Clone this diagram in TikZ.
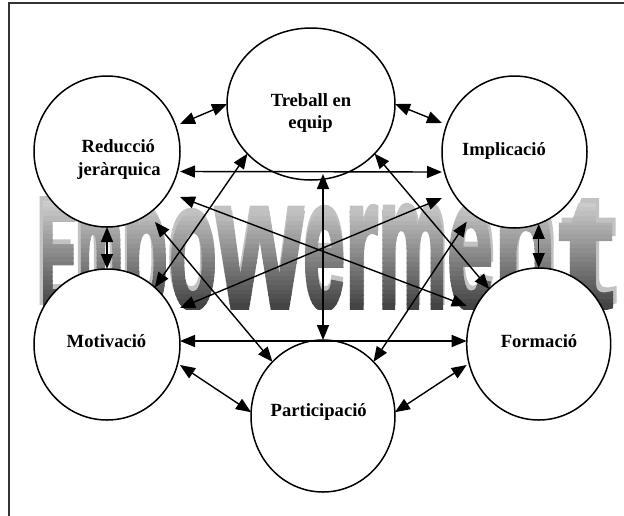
\documentclass[tikz,border=0pt]{standalone}
\usepackage{fontspec}
\usepackage{graphicx}
\setmainfont{Liberation Serif}
\newfontfamily\wordfont[FakeBold=2.5]{Liberation Sans Bold}
\usetikzlibrary{arrows.meta,shapes.geometric}

\tikzset{
  frameline/.style={line width=1.5pt, draw=black!80},
  bubble/.style={ellipse, draw=black, line width=1.5pt, fill=white,
                 inner sep=0pt, outer sep=0pt},
  tag/.style={anchor=base, inner sep=0pt,
              font=\fontsize{18.6}{22}\selectfont\bfseries},
  link/.style={{Triangle[length=15pt,width=12pt]}-{Triangle[length=15pt,width=12pt]},
               line width=1.4pt},
  glyph/.style={anchor=base west, inner sep=0pt, outer sep=0pt}
}

% one run of the word, each letter stretched into its own slot
% slot: letter / left edge / width / height above the baseline
% #1 colour, #2 horizontal spread about the middle, #3 lift
\newcommand\wordrun[3]{%
  \foreach \letr/\slotx/\slotw/\sloth [count=\k] in
    {E/40/38/105, m/78/45/94, p/123/45/93, o/169/48/93,
     w/217/86/95, e/303/42/96, r/345/33/97, m/378/69/98,
     e/447/46/98, n/494/62/98, t/559/54/103}{
    \pgfmathsetmacro\gx{326+(\slotx-326)*#2}
    \pgfmathsetmacro\gw{\slotw*#2}
    \node[glyph, text=#1] (wa-\k) at (\gx,308-#3)
      {\resizebox{\gw pt}{\sloth pt}{\wordfont\letr}};
  }}

\begin{document}
\begin{tikzpicture}[x=1pt,y=-1pt]
\useasboundingbox (0,0) rectangle (624,515);

% page frame (left and top edges)
\draw[frameline] (9,530) -- (9,3) -- (640,3);

% word art: flat light shadow, then a banded grey gradient on top
\begin{scope}
  \clip (0,180) rectangle (624,304);
  \wordrun{black!24}{1.012}{5}
\end{scope}
\foreach \i in {0,...,23}{
  \pgfmathsetmacro\bandtone{18+\i*2.4}
  \begin{scope}
    \clip (0,{198+\i*4.6}) rectangle (624,{203.2+\i*4.6});
    \clip (0,180) rectangle (624,309);
    \wordrun{black!\bandtone!white}{1}{0}
  \end{scope}
}

% the six bubbles
\node[bubble, minimum width=146pt, minimum height=151pt] (red) at (107,151.5) {};
\node[bubble, minimum width=168pt, minimum height=152pt] (tre) at (311,104) {};
\node[bubble, minimum width=145pt, minimum height=152pt] (imp) at (514.5,152) {};
\node[bubble, minimum width=146pt, minimum height=151pt] (mot) at (107,344.5) {};
\node[bubble, minimum width=144pt, minimum height=152pt] (for) at (538.7,344) {};
\node[bubble, minimum width=144pt, minimum height=152pt] (par) at (323,416) {};

% labels
\node[tag] (tre-a) at (311,106.7) {Treball en};
\node[tag] (tre-b) at (310.5,128.3) {equip};
\node[tag] (red-a) at (118.3,152.7) {Reducció};
\node[tag] (red-b) at (119,175) {jeràrquica};
\node[tag] (imp-a) at (504,155) {Implicació};
\node[tag] (mot-a) at (106.5,347.7) {Motivació};
\node[tag] (for-a) at (539,347.7) {Formació};
\node[tag] (par-a) at (318.7,416) {Participació};

% two-way links
\draw[link] ([yshift=27.5pt]red.east) -- (tre.west);
\draw[link] (tre.east) -- ([yshift=29pt]imp.west);
\draw[link] ([yshift=-20pt]red.east) -- ([yshift=-20pt]imp.west);
\draw[link] ([yshift=-45.5pt]red.east) -- ([yshift=38pt]for.west);
\draw[link] ([yshift=-46pt]imp.west) -- ([yshift=36.5pt]mot.east);
\draw[link] (tre.218) -- (mot.50);
\draw[link] (tre.-38) -- (for.132);
\draw[link] ([yshift=6pt]tre.south -| par.north) -- (par.north);
\draw[link] ([shift={(48pt,-70.5pt)}]red.center) -- (par.133);
\draw[link] ([shift={(-47.8pt,-69.7pt)}]imp.center) -- (par.47);
\draw[link] ([yshift=3.5pt]mot.east) -- ([yshift=3pt]for.west);
\draw[link] ([yshift=-20.5pt]mot.east) -- (par.177);
\draw[link] ([yshift=-21pt]for.west) -- (par.3);
\draw[link] (red.south) -- (mot.north);
\draw[link] (for.north |- imp.-72) -- (for.north);
\end{tikzpicture}
\end{document}
